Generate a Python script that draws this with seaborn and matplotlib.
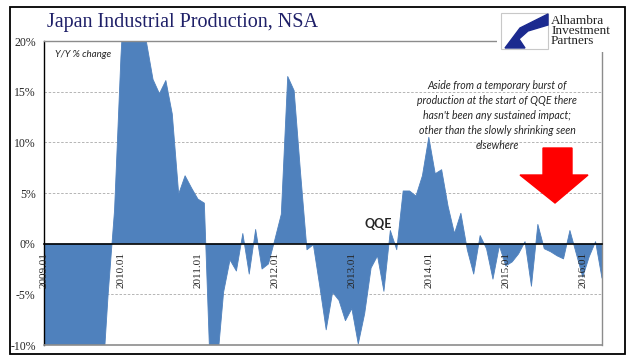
import numpy as np
import pandas as pd
import matplotlib
matplotlib.use('Agg')
import matplotlib.pyplot as plt
from matplotlib.patches import Polygon, Rectangle
import seaborn as sns

# monthly Y/Y % change, 2009.01 .. 2016.04
yoy = [-35, -38, -34, -31, -29, -24, -22, -19, -18, -15, -5, 3.3,
       18.5, 30, 31, 22, 19.8, 16.2, 14.8, 16.1, 12.8, 4.9, 6.7, 5.5,
       4.4, 4.0, -14, -12, -4.8, -1.6, -2.7, 1.0, -3.0, 1.4, -2.5, -2.0,
       0.4, 2.9, 16.5, 15.1, 7.0, -0.6, -0.1, -4.2, -8.5, -4.8, -5.6, -7.6,
       -6.4, -9.9, -6.9, -2.4, -1.2, -4.7, 1.3, -0.6, 5.2, 5.2, 4.7, 6.7,
       10.5, 6.9, 7.3, 3.7, 1.0, 3.0, -0.6, -3.0, 0.8, -0.5, -3.5, -0.2,
       -2.2, -1.8, -1.0, 0.2, -4.2, 1.9, -0.5, -0.8, -1.2, -1.5, 1.3, -1.0,
       -3.3, -1.3, 0.2, -3.4]
years = ['2009', '2010', '2011', '2012', '2013', '2014', '2015', '2016']
xlabels = [y + '.01' for y in years]
yticks = [-10, -5, 0, 5, 10, 15, 20]

df = pd.DataFrame({'month': np.arange(len(yoy)), 'yoy': yoy})

sns.set_style('white')
plt.rcParams['font.family'] = ['Liberation Serif', 'DejaVu Sans']

fig = plt.figure(figsize=(6.41, 3.61), dpi=100)
ax = fig.add_axes([44/641, 16/361, 558/641, 304/361])

blue = '#4F81BD'
ax.fill_between(df['month'], df['yoy'], 0, color=blue, lw=0, zorder=2)
sns.lineplot(data=df, x='month', y='yoy', ax=ax, color=blue, lw=0.6, zorder=2)

ax.set_xlim(0, len(yoy) - 1)
ax.set_ylim(-10, 20)
ax.set_xlabel('')
ax.set_ylabel('')
ax.set_axisbelow(False)

for v in [-5, 5, 10, 15]:
    ax.axhline(v, color='#AAAAAA', lw=0.6, ls=(0, (3, 2)), zorder=1)
ax.axhline(-10, color='#8C8C8C', lw=1.2, zorder=3, clip_on=False)

ax.spines['bottom'].set_position(('data', 0))
ax.spines['bottom'].set_color('black')
ax.spines['bottom'].set_linewidth(1.2)
ax.spines['bottom'].set_zorder(4)
ax.spines['left'].set_color('black')
ax.spines['left'].set_linewidth(1.0)
for s in ['top', 'right']:
    ax.spines[s].set_color('#8C8C8C')
    ax.spines[s].set_linewidth(1.0)

ax.set_yticks(yticks)
ax.set_yticklabels([f'{v}%' for v in yticks], fontsize=8.5)
ax.set_xticks(np.arange(0, len(yoy), 12))
ax.set_xticklabels(xlabels, fontsize=8)
ax.tick_params(axis='x', labelrotation=90)
ax.tick_params(axis='both', direction='out', length=4, width=1, color='black', pad=2)

# title
fig.text(47/641, 1 - 23/361, 'Japan Industrial Production, NSA', fontsize=14.5,
         color='#1F2068', va='center', ha='left')

ax.text(0.02, 0.955, 'Y/Y % change', transform=ax.transAxes, fontsize=7,
        family='Lato', style='italic', va='center', ha='left')

ax.text(378/641, 1 - 224/361, 'QQE', transform=fig.transFigure, fontsize=9,
        family='Lato', weight='bold', va='center', ha='center', zorder=5)

note = ("Aside from a temporary burst of\nproduction at the start of QQE there\n"
        "hasn't been any sustained impact;\nother than the slowly shrinking seen\nelsewhere")
fig.text(497/641, 1 - 80/361, note, fontsize=7.6, family='Lato', style='italic',
         ha='center', va='top', linespacing=1.45)

# red arrow
def px(x, y):
    return (x/641, 1 - y/361)
arrow = [px(543, 148), px(572, 148), px(572, 175), px(588, 175), px(555, 203),
         px(520, 175), px(543, 175)]
fig.patches.append(Polygon(arrow, closed=True, color='#FF0000', transform=fig.transFigure))

# logo
fig.patches.append(Rectangle(px(497, 52), 118/641, 42/361, facecolor='white',
                             edgecolor='none', transform=fig.transFigure, zorder=5))
fig.patches.append(Rectangle(px(501, 49), 47/641, 36/361, facecolor='white',
                             edgecolor='#C8C8C8', lw=0.8, transform=fig.transFigure, zorder=6))
swoosh = [px(548, 14), px(520, 28), px(505, 48), px(525, 48), px(519, 39),
          px(528, 31), px(548, 25)]
fig.patches.append(Polygon(swoosh, closed=True, color='#1B2A8F', transform=fig.transFigure, zorder=7))
fig.text(551/641, 1 - 31/361, 'Alhambra\nInvestment\nPartners', fontsize=9.5,
         color='#222222', ha='left', va='center', linespacing=0.82, zorder=7)

# outer frame
fig.patches.append(Rectangle(px(10, 354), 615/641, 347/361, fill=False,
                             edgecolor='black', lw=1.3, transform=fig.transFigure, zorder=4))

fig.savefig('out.png', dpi=100)
